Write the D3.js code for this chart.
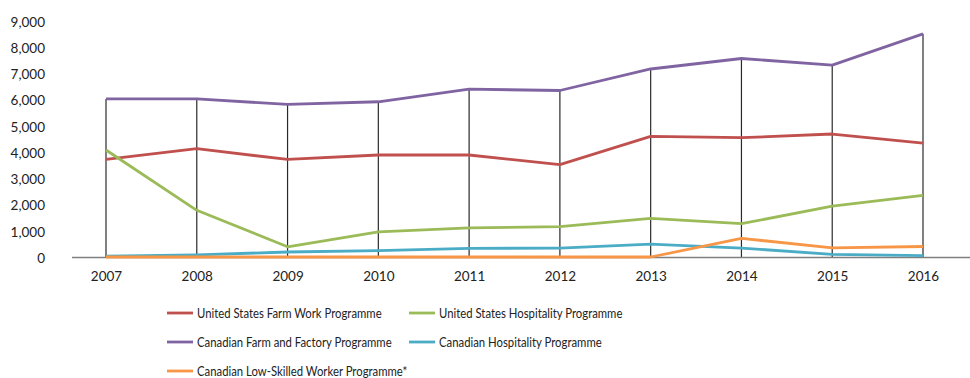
<!DOCTYPE html>
<html>
<head>
<meta charset="utf-8">
<script src="https://cdn.jsdelivr.net/npm/d3@7"></script>
<style>
  html, body { margin: 0; padding: 0; background: #fff; }
  svg { display: block; }
  text { font-family: Lato, "Open Sans", sans-serif; fill: #222; }
</style>
</head>
<body>
<svg id="chart" width="970" height="378"></svg>
<script>
// Participants by programme, 2007–2016
const years = ["2007","2008","2009","2010","2011","2012","2013","2014","2015","2016"];
const usFarmWork      = [3720, 4130, 3720, 3890, 3890, 3520, 4600, 4550, 4690, 4340];
const usHospitality   = [4080, 1780, 390, 960, 1110, 1160, 1470, 1270, 1940, 2350];
const caFarmFactory   = [6030, 6030, 5820, 5920, 6400, 6350, 7170, 7570, 7320, 8510];
const caHospitality   = [30, 80, 190, 240, 330, 340, 490, 340, 100, 50];
const caLowSkilled    = [0, 0, 0, 0, 0, 0, 0, 710, 350, 400];
const yTicks = [0, 1000, 2000, 3000, 4000, 5000, 6000, 7000, 8000, 9000];

const series = [
  { name: "United States Farm Work Programme",    values: usFarmWork,    color: "#C0504D" },
  { name: "United States Hospitality Programme",  values: usHospitality, color: "#9BBB59" },
  { name: "Canadian Farm and Factory Programme",  values: caFarmFactory, color: "#8064A2" },
  { name: "Canadian Hospitality Programme",       values: caHospitality, color: "#4BACC6" },
  { name: "Canadian Low-Skilled Worker Programme*", values: caLowSkilled, color: "#F79646" }
];

const svg = d3.select("#chart");

const x = d3.scalePoint().domain(years).range([106, 923]);
const y = d3.scaleLinear().domain([0, 9000]).range([257, 21]);

// Drop lines from the highest value in each year down to the axis
const tops = years.map((yr, i) => d3.max(series, s => s.values[i]));
svg.append("g").selectAll("line")
  .data(years)
  .join("line")
  .attr("x1", d => x(d)).attr("x2", d => x(d))
  .attr("y1", (d, i) => y(tops[i])).attr("y2", y(0))
  .attr("stroke", "#2a2a2a")
  .attr("stroke-width", 1.2);

// Category axis baseline
svg.append("line")
  .attr("x1", 72).attr("x2", 970)
  .attr("y1", y(0) + 0.5).attr("y2", y(0) + 0.5)
  .attr("stroke", "#7f7f7f")
  .attr("stroke-width", 1.6);

// Value axis labels (no axis line or gridlines)
const yAxis = svg.append("g")
  .attr("transform", "translate(45,1)")
  .call(d3.axisLeft(y).tickValues(yTicks).tickFormat(d3.format(",")).tickSize(0).tickPadding(0));
yAxis.select(".domain").remove();
yAxis.selectAll("text")
  .style("font-family", "Lato, 'Open Sans', sans-serif")
  .style("font-size", "13.5px")
  .attr("fill", "#222");

// Year labels
const xAxis = svg.append("g")
  .attr("transform", `translate(0,${y(0) + 14})`)
  .call(d3.axisBottom(x).tickSize(0).tickPadding(0));
xAxis.select(".domain").remove();
xAxis.selectAll("text")
  .attr("dy", "0.71em")
  .style("font-family", "Lato, 'Open Sans', sans-serif")
  .style("font-size", "13.5px")
  .attr("fill", "#222");

// Series lines
const line = d3.line()
  .x((d, i) => x(years[i]))
  .y(d => y(d));

svg.append("g").selectAll("path")
  .data(series)
  .join("path")
  .attr("d", s => line(s.values))
  .attr("fill", "none")
  .attr("stroke", s => s.color)
  .attr("stroke-width", 2.8)
  .attr("stroke-linejoin", "round");

// Legend: two columns, three rows; labels set in a narrow face
const legendCols = [167, 409];
const legendRows = [313, 342, 371];
const legend = svg.append("g").selectAll("g")
  .data(series)
  .join("g")
  .attr("transform", (s, i) => `translate(${legendCols[i % 2]},${legendRows[Math.floor(i / 2)]})`);
legend.append("line")
  .attr("x1", 0).attr("x2", 26)
  .attr("y1", 0).attr("y2", 0)
  .attr("stroke", s => s.color)
  .attr("stroke-width", 2.8);
legend.append("text")
  .attr("transform", "translate(30,0) scale(0.84,1)")
  .attr("dy", "0.35em")
  .style("font-size", "13.5px")
  .attr("fill", "#111")
  .text(s => s.name);
</script>
</body>
</html>
